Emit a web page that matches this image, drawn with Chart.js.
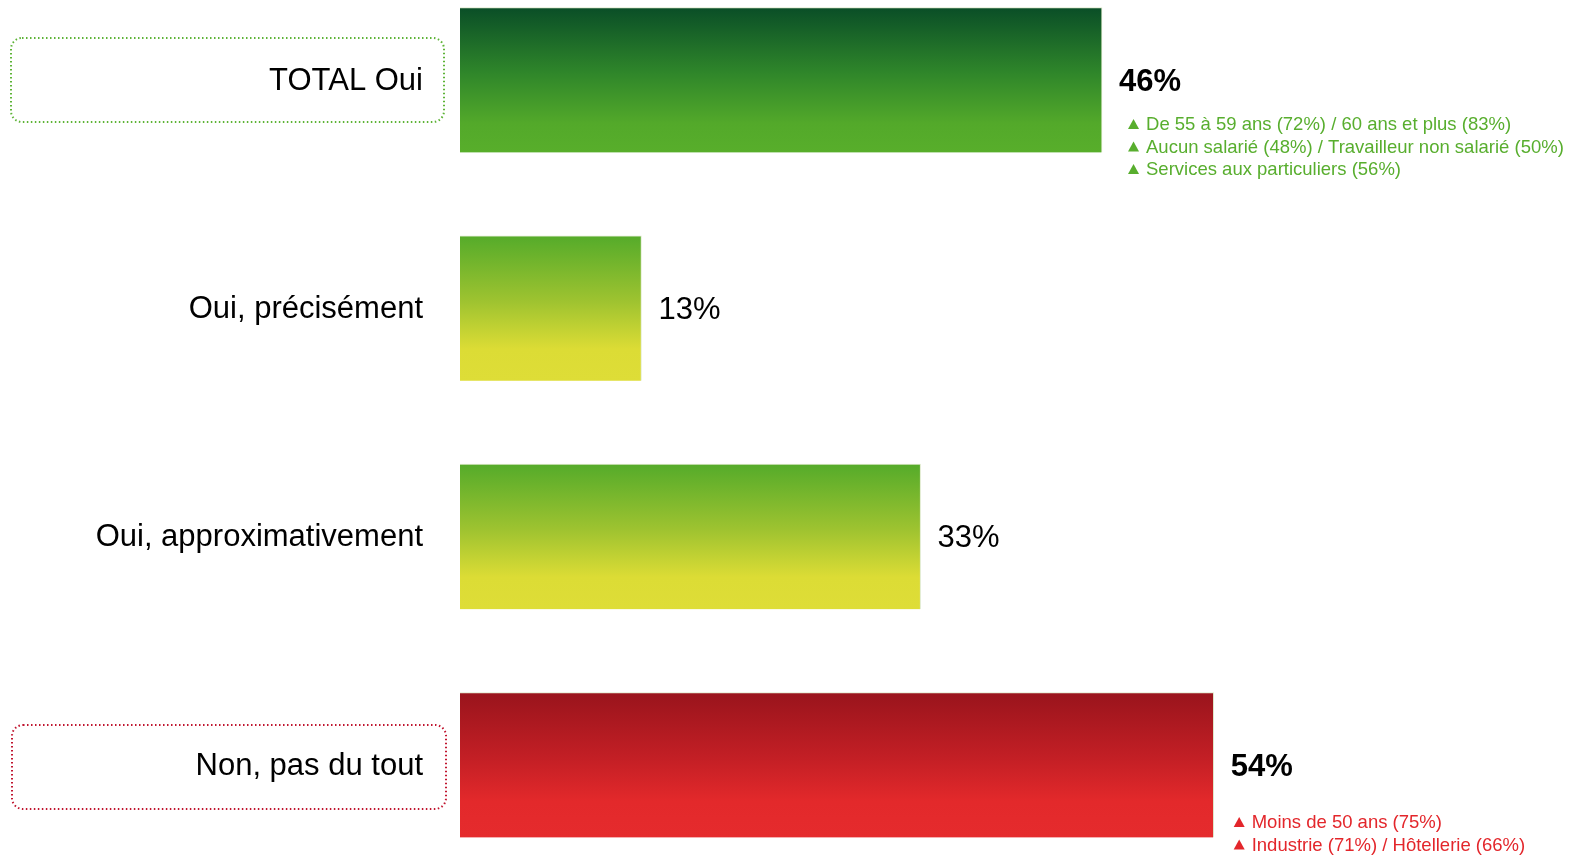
<!DOCTYPE html>
<html>
<head>
<meta charset="utf-8">
<script src="https://cdn.jsdelivr.net/npm/chart.js@4"></script>
<style>
  body { margin: 0; background: #ffffff; }
  #wrap { width: 1571px; height: 855px; }
</style>
</head>
<body>
<div id="wrap"><canvas id="chart" width="1571" height="855"></canvas></div>
<script>
const categories = ["TOTAL Oui", "Oui, précisément", "Oui, approximativement", "Non, pas du tout"];
const values = [46, 13, 33, 54];
const valueLabels = ["46%", "13%", "33%", "54%"];
const boldLabels = [true, false, false, true];
const notesTotalOui = [
  "De 55 à 59 ans (72%) / 60 ans et plus (83%)",
  "Aucun salarié (48%) / Travailleur non salarié (50%)",
  "Services aux particuliers (56%)",
];
const notesNon = [
  "Moins de 50 ans (75%)",
  "Industrie (71%) / Hôtellerie (66%)",
];

// Couleurs
const greenText = "#58ae2e";
const redText = "#e3262b";
const gradients = [
  [[0, "#0a4e27"], [0.45, "#2f862a"], [0.8, "#53a92a"], [1, "#58ae2b"]],
  [[0, "#55ab2a"], [0.45, "#9ec330"], [0.78, "#dcdc35"], [1, "#dedd37"]],
  [[0, "#55ab2a"], [0.45, "#9ec330"], [0.78, "#dcdc35"], [1, "#dedd37"]],
  [[0, "#99141c"], [0.45, "#c31f25"], [0.75, "#e3292b"], [1, "#e52b2d"]],
];
const barThickness = 145;

function barGradient(ctx) {
  const chart = ctx.chart;
  if (!chart.chartArea) return "#55ab2a";
  const c = chart.scales.y.getPixelForValue(ctx.dataIndex);
  const g = chart.ctx.createLinearGradient(0, c - barThickness / 2, 0, c + barThickness / 2);
  gradients[ctx.dataIndex].forEach(([o, col]) => g.addColorStop(o, col));
  return g;
}

function dottedBox(c, x, y, w, h, r, color) {
  c.save();
  c.strokeStyle = color;
  c.lineWidth = 2;
  c.setLineDash([1.5, 2.5]);
  c.beginPath();
  c.roundRect(x, y, w, h, r);
  c.stroke();
  c.restore();
}

function notes(c, lines, x, y, color) {
  c.save();
  c.fillStyle = color;
  c.font = "18.5px 'Liberation Sans', Arial, sans-serif";
  c.textBaseline = "middle";
  lines.forEach((t, k) => {
    const ly = y + k * 22.5;
    c.beginPath();
    c.moveTo(x, ly + 4);
    c.lineTo(x + 11, ly + 4);
    c.lineTo(x + 5.5, ly - 6);
    c.closePath();
    c.fill();
    c.fillText(t, x + 18, ly);
  });
  c.restore();
}

const labelsPlugin = {
  id: "labelsPlugin",
  afterDraw(chart) {
    const c = chart.ctx;
    const yScale = chart.scales.y;
    const meta = chart.getDatasetMeta(0);

    // boîtes pointillées
    const y0 = yScale.getPixelForValue(0);
    const y3 = yScale.getPixelForValue(3);
    dottedBox(c, 11, y0 - 42, 433, 84, 11, "#5db336");
    dottedBox(c, 12, y3 - 40, 434, 84, 11, "#c0152f");

    c.save();
    c.fillStyle = "#000";
    c.textBaseline = "middle";
    categories.forEach((cat, i) => {
      const y = yScale.getPixelForValue(i);
      c.font = "31px 'Liberation Sans', Arial, sans-serif";
      c.textAlign = "right";
      c.fillText(cat, 423, y + 1);
      const bar = meta.data[i];
      c.textAlign = "left";
      c.font = (boldLabels[i] ? "bold " : "") + "31px 'Liberation Sans', Arial, sans-serif";
      c.fillText(valueLabels[i], bar.x + 17, y + 2);
    });
    c.restore();

    notes(c, notesTotalOui, meta.data[0].x + 26, yScale.getPixelForValue(0) + 45, greenText);
    notes(c, notesNon, meta.data[3].x + 20, yScale.getPixelForValue(3) + 58, redText);
  },
};

new Chart(document.getElementById("chart"), {
  type: "bar",
  data: {
    labels: categories,
    datasets: [
      {
        data: values,
        backgroundColor: barGradient,
        borderColor: "rgba(220,232,200,0.9)",
        borderWidth: { top: 1, right: 1, bottom: 0, left: 0 },
        borderSkipped: "left",
        barThickness: barThickness,
        clip: false,
      },
    ],
  },
  options: {
    indexAxis: "y",
    responsive: false,
    animation: false,
    layout: { padding: { left: 460, right: 134, top: 80, bottom: 90 } },
    scales: {
      x: { display: false, min: 0, max: 70 },
      y: { display: false, offset: false, grid: { display: false } },
    },
    plugins: {
      legend: { display: false },
      tooltip: { enabled: false },
    },
  },
  plugins: [labelsPlugin],
});
</script>
</body>
</html>
